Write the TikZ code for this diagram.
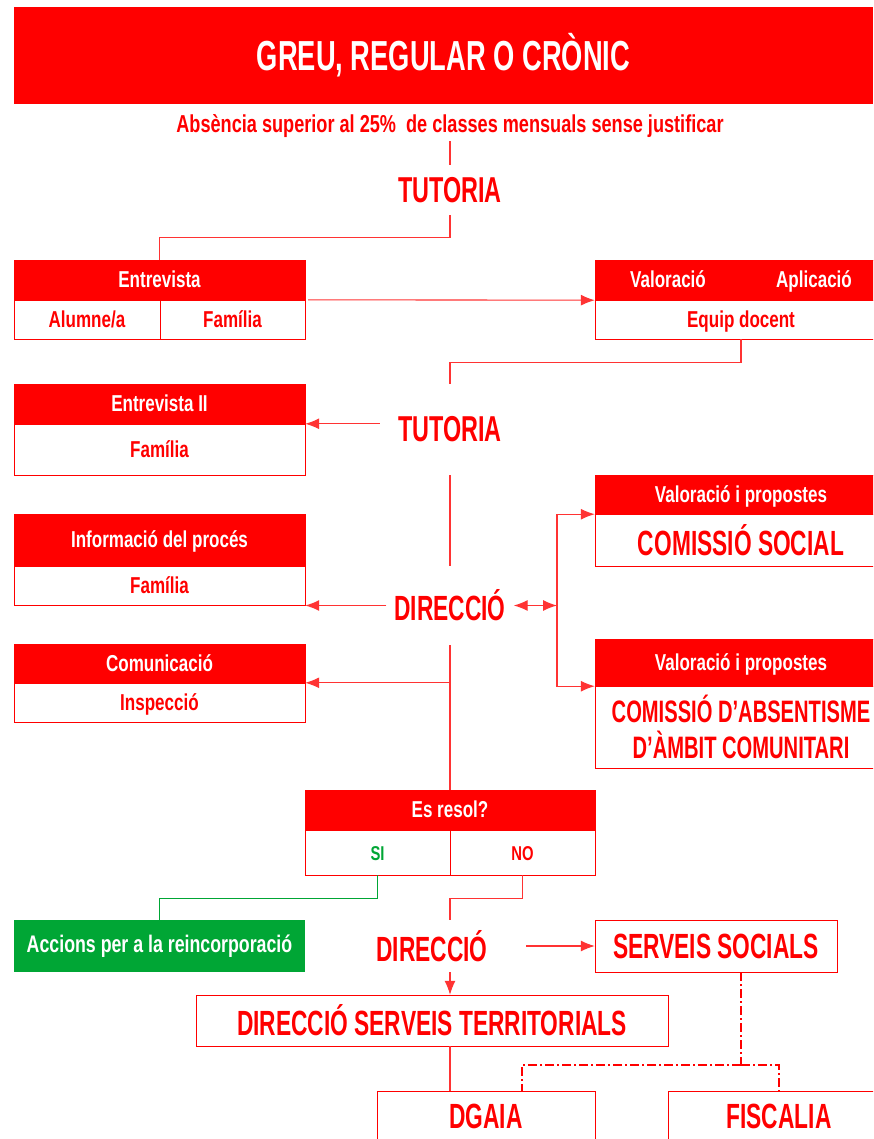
\documentclass[tikz,border=0pt]{standalone}
\usepackage{fontspec}
\usetikzlibrary{arrows.meta}
\newfontfamily\fcaps{Liberation Sans}[FakeStretch=0.65]
\newfontfamily\flow{Liberation Sans}[FakeStretch=0.74]
\definecolor{rojo}{RGB}{255,0,0}
\definecolor{verd}{RGB}{0,166,53}
\colorlet{linia}{rojo!80}
\tikzset{
  lletra/.style={font=\flow\bfseries\fontsize{#1}{#1}\selectfont},
  majus/.style={font=\fcaps\bfseries\fontsize{#1}{#1}\selectfont},
  capsal/.style={fill=rojo, draw=rojo, text=white, inner sep=0pt, lletra=23, text height=18pt, text depth=3pt},
  cos/.style={fill=white, draw=rojo, text=rojo, inner sep=0pt, lletra=23, text height=18pt, text depth=3pt},
  caixa/.style={fill=white, draw=rojo, text=rojo, inner sep=0pt, majus=35},
  gran/.style={text=rojo, inner sep=0pt, majus=36},
  mida/.style 2 args={minimum width=#1pt, minimum height=#2pt},
  con/.style={draw=linia, line width=1.1pt},
  punta/.tip={Latex[length=14pt,width=11pt]},
  fle/.style={con, -punta},
  dd/.style={con, draw=rojo, dash pattern=on 9pt off 3pt on 2pt off 3pt},
}
\begin{document}
\begin{tikzpicture}[x=1pt,y=-1pt]
\useasboundingbox (0,0) rectangle (873,1139);
\clip (0,0) rectangle (873,1139);

%%%%% capcalera %%%%%
\node[fill=rojo, text=white, mida={859}{97}, majus=42] (titol) at (443.5,55.5) {GREU, REGULAR O CRÒNIC};
\node[text=rojo, lletra=24.5] (abs) at (450,126) {Absència superior al 25\%\ \ de classes mensuals sense justificar};
\node[gran, mida={110}{50}] (tut1) at (450,190) {TUTORIA};
\draw[con] (abs) -- (tut1);

%%%%% primera entrevista %%%%%
\node[capsal, mida={291}{40}] (ent) at (159.5,280) {Entrevista};
\node[cos, mida={146}{39}] (alu) at (87,319.5) {Alumne/a};
\node[cos, mida={145}{39}] (fam1) at (232.5,319.5) {Família};
\node[capsal, mida={146}{40}] (val) at (668,280) {Valoració};
\node[capsal, mida={146}{40}] (apl) at (814,280) {Aplicació};
\node[cos, mida={292}{39}] (eq) at (741,319.5) {Equip docent};
\draw[con] (tut1.south) -- ++(0,22) -| (ent.north);
\draw[fle] ([xshift=3pt]fam1.north east) -- (val.south west);

%%%%% segona tutoria %%%%%
\node[gran, mida={140}{91}] (tut2) at (450,429.5) {TUTORIA};
\node[capsal, mida={291}{40}] (ent2) at (159.5,404) {Entrevista II};
\node[cos, mida={291}{51}] (fam2) at (159.5,449.5) {Família};
\draw[con] (eq.south) -- ++(0,23) -| (tut2.north);
\draw[fle] (tut2.west |- fam2.north) -- (fam2.north east);

%%%%% direccio %%%%%
\node[gran, mida={127}{79}, majus=35] (dir1) at (450,605.5) {DIRECCIÓ};
\node[capsal, mida={291}{52}] (inf) at (159.5,540) {Informació del procés};
\node[cos, mida={291}{39}] (fam3) at (159.5,585.5) {Família};
\node[capsal, mida={291}{39}] (com) at (159.5,663.5) {Comunicació};
\node[cos, mida={291}{39}] (insp) at (159.5,702.5) {Inspecció};
\draw[con] (tut2) -- (dir1);
\draw[fle] (dir1.west) -- (dir1.west -| fam3.east);
\draw[fle] (dir1.south |- insp.north) -- (insp.north east);

\node[capsal, mida={292}{39}] (vp1) at (741,494.5) {Valoració i propostes};
\node[caixa, mida={292}{52}] (csoc) at (741,540) {COMISSIÓ SOCIAL};
\node[capsal, mida={292}{47}] (vp2) at (741,662.5) {Valoració i propostes};
\node[caixa, mida={292}{82}, align=center, majus=31] (cabs) at (741,727) {COMISSIÓ D’ABSENTISME\\[5pt]D’ÀMBIT COMUNITARI};
\coordinate (bif) at (557,605.5);
\draw[con, punta-punta] (dir1.east) -- (bif);
\draw[fle] (bif) |- (vp1.south west);
\draw[fle] (bif) |- (vp2.south west);

%%%%% es resol? %%%%%
\node[capsal, mida={290}{40}] (res) at (450,810) {Es resol?};
\node[cos, mida={145}{45}, text=verd, lletra=20] (si) at (377.5,852.5) {SI};
\node[cos, mida={145}{45}, lletra=20] (no) at (522.5,852.5) {NO};
\draw[con] (dir1) -- (res);

\node[fill=verd, text=white, inner sep=0pt, mida={291}{52}, lletra=24] (acc) at (159.5,946) {Accions per a la reincorporació};
\draw[con, draw=verd] (si.south) -- ++(0,23) -| (acc.north);

\node[gran, mida={188}{52}, majus=35] (dir2) at (432,946) {DIRECCIÓ};
\node[caixa, mida={242}{52}] (ss) at (716,946) {SERVEIS SOCIALS};
\node[caixa, mida={472}{51}] (dst) at (432,1020.5) {DIRECCIÓ SERVEIS TERRITORIALS};
\node[caixa, mida={218}{50}] (dga) at (486,1116) {DGAIA};
\node[caixa, mida={222}{50}] (fis) at (779,1116) {FISCALIA};
\draw[con] (no.south) -- ++(0,23) -| (res.south |- dir2.north);
\draw[fle] (dir2.east) -- (ss.west);
\draw[fle] (res.south |- dir2.south) -- (res.south |- dst.north);
\draw[con] (res.south |- dst.south) -- (res.south |- dga.north);

\coordinate (nus) at (741,1065);
\draw[dd] ([xshift=25pt]ss.south) -- (nus);
\draw[dd] (nus) -| ([xshift=36pt]dga.north);
\draw[dd] (nus) -| (fis.north);
\end{tikzpicture}
\end{document}
